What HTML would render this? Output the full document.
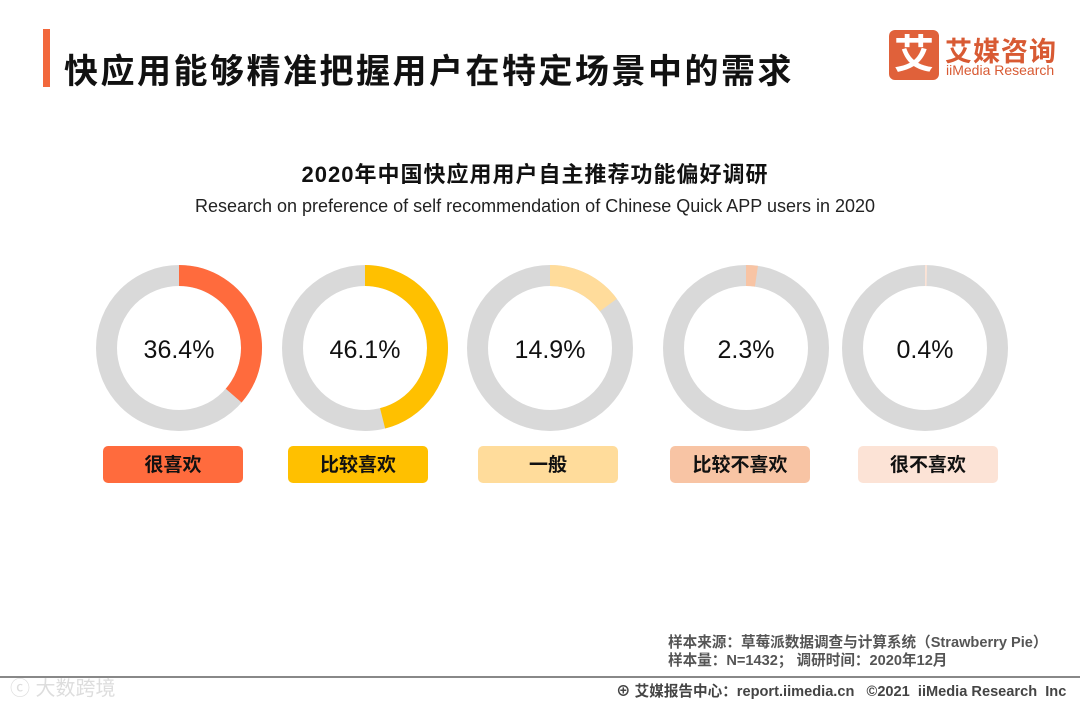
<!DOCTYPE html>
<html><head><meta charset="utf-8"><style>
body{margin:0;width:1080px;height:702px;background:#fff;font-family:"Liberation Sans","Noto Sans CJK SC",sans-serif;position:relative;overflow:hidden}
.abs{position:absolute}
</style></head><body>
<div class="abs" style="left:43px;top:29px;width:7px;height:58px;background:#f2683c"></div>
<div class="abs" style="left:64px;top:44px;font-size:34px;font-weight:bold;color:#111;letter-spacing:2.5px">快应用能够精准把握用户在特定场景中的需求</div>
<div class="abs" style="left:889px;top:30px;width:50px;height:50px;background:#e0613a;border-radius:6px;color:#fff;font-size:40px;font-weight:bold;text-align:center;line-height:50px">艾</div>
<div class="abs" style="left:945px;top:30px;color:#d85a33;font-size:27px;font-weight:bold;letter-spacing:1px">艾媒咨询</div>
<div class="abs" style="left:946px;top:62px;color:#d85a33;font-size:14px">iiMedia Research</div>
<div class="abs" style="left:0;width:1070px;top:157px;text-align:center;font-size:22px;font-weight:bold;color:#111;letter-spacing:1px">2020年中国快应用用户自主推荐功能偏好调研</div>
<div class="abs" style="left:0;width:1070px;top:196px;text-align:center;font-size:18px;color:#222">Research on preference of self recommendation of Chinese Quick APP users in 2020</div>
<svg id="chart" class="abs" style="left:0;top:0" width="1080" height="702"></svg>
<div class="abs" style="left:668px;top:634px;font-size:14.6px;color:#555;line-height:18px;font-weight:bold">样本来源：草莓派数据调查与计算系统（Strawberry Pie）<br>样本量：N=1432； 调研时间：2020年12月</div>
<div class="abs" style="left:0;top:676px;width:1080px;height:2px;background:#888"></div>
<div class="abs" style="left:616px;top:680px;font-size:14.6px;color:#444;font-weight:bold">⊕ 艾媒报告中心：report.iimedia.cn &nbsp; ©2021 &nbsp;iiMedia Research &nbsp;Inc</div>
<div class="abs" style="left:10px;top:672px;font-size:20px;color:#ddd">ⓒ 大数跨境</div>
<script>
const categories=["很喜欢","比较喜欢","一般","比较不喜欢","很不喜欢"];
const values=[36.4,46.1,14.9,2.3,0.4];
const labels=["36.4%","46.1%","14.9%","2.3%","0.4%"];
const colors=["#ff6b3d","#ffc000","#ffdc9b","#f8c4a4","#fce3d6"];
const cx=[179,365,550,746,925], cy=348, R=72.5, W=21;
const boxX=[103,288,478,670,858];
const svg=document.getElementById('chart');
const NS='http://www.w3.org/2000/svg';
function ang(v){return v/100*2*Math.PI;}
values.forEach((v,i)=>{
  const bg=document.createElementNS(NS,'circle');
  bg.setAttribute('cx',cx[i]);bg.setAttribute('cy',cy);bg.setAttribute('r',R);
  bg.setAttribute('fill','none');bg.setAttribute('stroke','#d9d9d9');bg.setAttribute('stroke-width',W);
  
  
  svg.appendChild(bg);
  const a=ang(v);
  const x1=cx[i],y1=cy-R,x2=cx[i]+R*Math.sin(a),y2=cy-R*Math.cos(a);
  const p=document.createElementNS(NS,'path');
  p.setAttribute('d',`M${x1},${y1} A${R},${R} 0 ${a>Math.PI?1:0} 1 ${x2},${y2}`);
  p.setAttribute('fill','none');p.setAttribute('stroke',colors[i]);p.setAttribute('stroke-width',W);
  
  
  svg.appendChild(p);
  const t=document.createElementNS(NS,'text');
  t.setAttribute('x',cx[i]);t.setAttribute('y',cy+10);t.setAttribute('text-anchor','middle');
  t.setAttribute('font-size','25');t.setAttribute('fill','#111');
  t.textContent=labels[i];
  
  
  svg.appendChild(t);
  const r=document.createElementNS(NS,'rect');
  r.setAttribute('x',boxX[i]);r.setAttribute('y',446);r.setAttribute('width',140);r.setAttribute('height',37);
  r.setAttribute('rx',5);r.setAttribute('fill',colors[i]);
  
  
  svg.appendChild(r);
  const c=document.createElementNS(NS,'text');
  c.setAttribute('x',boxX[i]+70);c.setAttribute('y',471);c.setAttribute('text-anchor','middle');
  c.setAttribute('font-size','19');c.setAttribute('font-weight','bold');c.setAttribute('fill','#111');
  c.setAttribute('font-family','"Liberation Sans","Noto Sans CJK SC",sans-serif');
  c.textContent=categories[i];
  
  
  svg.appendChild(c);
});
</script>
</body></html>
